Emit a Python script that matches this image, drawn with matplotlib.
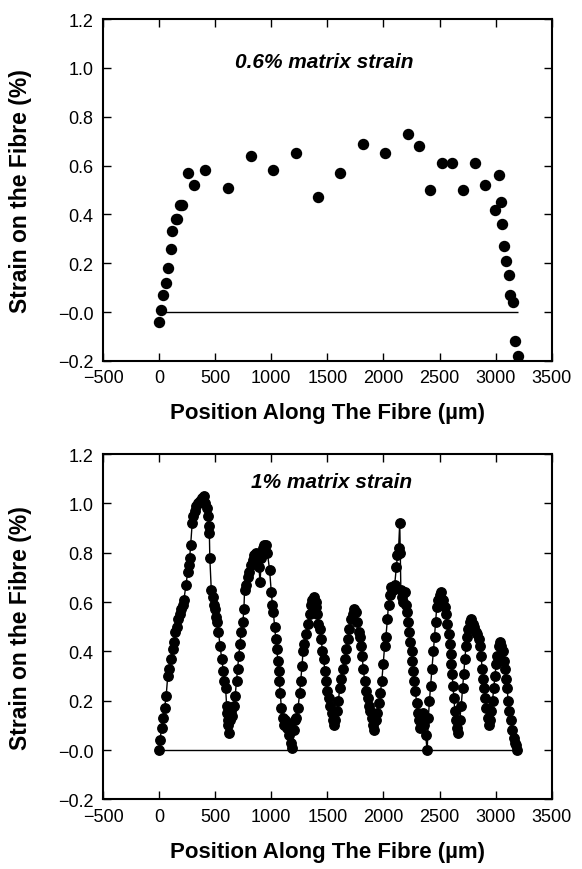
import matplotlib
matplotlib.use("Agg")
import matplotlib.pyplot as plt

plt.rcParams["font.family"] = ["Liberation Sans", "DejaVu Sans"]

# ── data ─────────────────────────────────────────────────────────────────────
fibre_ends = [0, 3200]

# 0.6 % matrix strain (points only)
pos_06 = [0, 15, 36, 60, 83, 104, 119, 150, 162, 185, 208, 262, 313, 411, 610,
          818, 1018, 1220, 1414, 1610, 1821, 2018, 2223, 2315, 2411, 2518, 2613,
          2708, 2812, 2908, 3027, 2997, 3048, 3060, 3074, 3095, 3116, 3131, 3152,
          3175, 3195]
strain_06 = [-0.04, 0.01, 0.07, 0.12, 0.18, 0.26, 0.33, 0.38, 0.38, 0.44, 0.44,
             0.57, 0.52, 0.58, 0.51, 0.64, 0.58, 0.65, 0.47, 0.57, 0.69, 0.65,
             0.73, 0.68, 0.50, 0.61, 0.61, 0.50, 0.61, 0.52, 0.56, 0.42, 0.45,
             0.36, 0.27, 0.21, 0.15, 0.07, 0.04, -0.12, -0.18]

# 1 % matrix strain (points joined)
pos_10 = [0, 8, 22, 36, 49, 63, 77, 90, 109, 123, 131, 145, 158, 172, 186, 199,
          213, 221, 240, 254, 268, 273, 281, 295, 303, 317, 328, 344, 363, 383,
          404,
          412, 425, 436, 442, 448, 452, 465, 476, 485, 494, 506, 517, 529, 544,
          558, 573, 581, 593, 602, 608, 612, 618, 622,
          630, 640, 652, 665, 678, 690, 700, 710, 720, 733, 747, 756, 762, 776,
          791, 805, 820, 834, 848, 862, 875, 890, 900, 912, 925, 938, 950,
          965, 985, 1000, 1010, 1018, 1030, 1040, 1050, 1058, 1065, 1072, 1080,
          1090, 1100, 1112, 1125, 1138, 1150, 1160, 1170, 1178, 1185,
          1200, 1212, 1223, 1238, 1253, 1262, 1274, 1283, 1292, 1313, 1327, 1342,
          1351, 1365, 1380, 1395,
          1402, 1410, 1420, 1432, 1446, 1455, 1466, 1478, 1490, 1500, 1512, 1525,
          1538, 1550, 1560, 1572,
          1585, 1598, 1610, 1625, 1640, 1655, 1668, 1680, 1695, 1710, 1725, 1740,
          1752,
          1765, 1778, 1790, 1800, 1810, 1820, 1832, 1845, 1858, 1870, 1882, 1895,
          1905, 1915,
          1930, 1945, 1960, 1972, 1985, 1998, 2010, 2022, 2035, 2045, 2055, 2070,
          2085, 2100, 2115, 2125, 2135, 2145,
          2150, 2155, 2165, 2175, 2188, 2200, 2212, 2222, 2232, 2240, 2250, 2258,
          2266, 2275, 2285, 2295, 2305, 2318, 2330, 2342, 2355, 2365, 2375, 2390,
          2400, 2410, 2420, 2432, 2445, 2455, 2465, 2475, 2488, 2502, 2515,
          2530, 2545, 2558, 2570, 2580, 2590, 2598, 2605, 2612, 2620, 2628, 2636,
          2645, 2655, 2665,
          2680, 2693, 2705, 2715, 2725, 2735, 2745, 2755, 2768, 2782,
          2795, 2810, 2822, 2835, 2848, 2860, 2870, 2880, 2888, 2898, 2908, 2918,
          2928, 2938, 2948,
          2960, 2972, 2983, 2994, 3005, 3015, 3028, 3040,
          3052, 3062, 3072, 3082, 3092, 3102, 3112, 3122, 3135, 3148, 3160, 3172,
          3182, 3192]
strain_10 = [0.00, 0.04, 0.09, 0.13, 0.17, 0.22, 0.30, 0.33, 0.37, 0.41, 0.44,
             0.48, 0.50, 0.53, 0.55, 0.57, 0.59, 0.61, 0.67, 0.72, 0.75, 0.78,
             0.83, 0.92, 0.95, 0.97, 0.99, 1.00, 1.01, 1.02, 1.03,
             1.00, 0.98, 0.95, 0.91, 0.88, 0.78, 0.65, 0.62, 0.59, 0.57, 0.54,
             0.52, 0.48, 0.42, 0.37, 0.32, 0.28, 0.25, 0.18, 0.15, 0.12, 0.10,
             0.07,
             0.12, 0.16, 0.14, 0.18, 0.22, 0.28, 0.33, 0.38, 0.43, 0.48, 0.52,
             0.57, 0.65, 0.67, 0.70, 0.72, 0.75, 0.77, 0.79, 0.80, 0.79, 0.74,
             0.68, 0.78, 0.82, 0.83, 0.83,
             0.80, 0.73, 0.64, 0.59, 0.56, 0.50, 0.45, 0.41, 0.36, 0.32, 0.28,
             0.23, 0.17, 0.13, 0.10, 0.12, 0.09, 0.11, 0.06, 0.09, 0.03, 0.01,
             0.08, 0.12, 0.13, 0.17, 0.23, 0.28, 0.34, 0.40, 0.43, 0.47, 0.51,
             0.55, 0.59, 0.61, 0.62, 0.60,
             0.58, 0.55, 0.51, 0.49, 0.45, 0.40, 0.37, 0.32, 0.28, 0.24, 0.21,
             0.18, 0.15, 0.12, 0.10, 0.12,
             0.16, 0.20, 0.25, 0.29, 0.33, 0.37, 0.41, 0.45, 0.49, 0.53, 0.55,
             0.57, 0.56,
             0.52, 0.48, 0.46, 0.42, 0.38, 0.33, 0.28, 0.24, 0.21, 0.18, 0.16,
             0.13, 0.10, 0.08,
             0.12, 0.15, 0.19, 0.23, 0.28, 0.35, 0.42, 0.46, 0.53, 0.59, 0.63,
             0.66, 0.65, 0.67, 0.74, 0.79, 0.82, 0.92,
             0.80, 0.65, 0.62, 0.60, 0.64, 0.59, 0.56, 0.52, 0.48, 0.44, 0.40,
             0.36, 0.32, 0.28, 0.24, 0.19, 0.15, 0.12, 0.09, 0.13, 0.15, 0.10,
             0.06, 0.00,
             0.13, 0.20, 0.26, 0.33, 0.40, 0.46, 0.52, 0.58, 0.61, 0.63, 0.64,
             0.61, 0.58, 0.55, 0.51, 0.47, 0.43, 0.39, 0.35, 0.31, 0.26, 0.21,
             0.16, 0.12, 0.09, 0.07,
             0.12, 0.18, 0.25, 0.31, 0.37, 0.42, 0.46, 0.49, 0.52, 0.53,
             0.51, 0.50, 0.48, 0.47, 0.45, 0.42, 0.38, 0.33, 0.29, 0.25, 0.21,
             0.17, 0.13, 0.10, 0.12,
             0.16, 0.20, 0.25, 0.30, 0.35, 0.38, 0.42, 0.44,
             0.42, 0.40, 0.36, 0.33, 0.29, 0.25, 0.20, 0.16, 0.12, 0.08, 0.05,
             0.03, 0.02, 0.00]

x_ticks = [-500, 0, 500, 1000, 1500, 2000, 2500, 3000, 3500]
y_ticks = [-0.2, 0.0, 0.2, 0.4, 0.6, 0.8, 1.0, 1.2]
y_tick_labels = ["\u22120.2", "\u22120.0", "0.2", "0.4", "0.6", "0.8", "1.0", "1.2"]

XLABEL = "Position Along The Fibre (\u00b5m)"
YLABEL = "Strain on the Fibre (%)"

# ── figure ───────────────────────────────────────────────────────────────────
fig = plt.figure(figsize=(5.82, 8.7), dpi=100)
ax_top = fig.add_axes([0.177, 0.584, 0.771, 0.393])
ax_bot = fig.add_axes([0.177, 0.080, 0.771, 0.397])


def style(ax):
    ax.set_xlim(-500, 3500)
    ax.set_ylim(-0.2, 1.2)
    ax.set_xticks(x_ticks)
    ax.set_yticks(y_ticks)
    ax.set_yticklabels(y_tick_labels)
    ax.tick_params(direction="in", length=6, width=1, top=True, right=True,
                   labelsize=13, pad=7)
    ax.tick_params(axis="x", pad=6)
    for s in ax.spines.values():
        s.set_linewidth(1.5)
    ax.set_xlabel(XLABEL, fontsize=16, fontweight="bold", va="center")
    ax.set_ylabel(YLABEL, fontsize=16.5, fontweight="bold", va="center")
    ax.xaxis.set_label_coords(0.5, -0.15)
    ax.yaxis.set_label_coords(-0.183, 0.5)
    ax.hlines(0, fibre_ends[0], fibre_ends[1], color="black", lw=1)


style(ax_top)
ax_top.plot(pos_06, strain_06, "o", color="black", ms=7.2, ls="none")
ax_top.text(1470, 1.025, "0.6% matrix strain", fontsize=15, fontweight="bold",
            fontstyle="italic", ha="center", va="center")

style(ax_bot)
ax_bot.plot(pos_10, strain_10, "o-", color="black", ms=6.8, lw=1)
ax_bot.text(1540, 1.09, "1% matrix strain", fontsize=15, fontweight="bold",
            fontstyle="italic", ha="center", va="center")

fig.savefig("out.png", dpi=100, facecolor="white")
